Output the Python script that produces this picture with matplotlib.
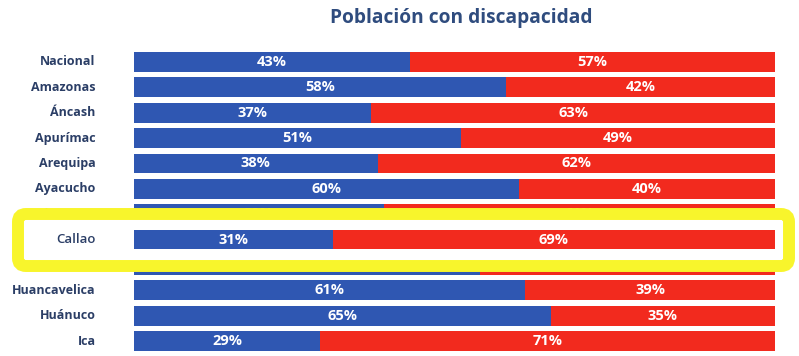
import matplotlib.pyplot as plt
from matplotlib.patches import FancyBboxPatch

# data
regiones = ["Nacional", "Amazonas", "Áncash", "Apurímac", "Arequipa", "Ayacucho",
            "Cajamarca", "Callao", "Cusco", "Huancavelica", "Huánuco", "Ica"]
azul = [43, 58, 37, 51, 38, 60, 39, 31, 54, 61, 65, 29]
rojo = [57, 42, 63, 49, 62, 40, 61, 69, 46, 39, 35, 71]
resaltado = "Callao"

c_azul = "#2F57B2"
c_rojo = "#F22A1E"
c_texto = "#2B3E66"
c_titulo = "#2F4C7E"

plt.rcParams['font.family'] = ['Open Sans', 'DejaVu Sans']

fig = plt.figure(figsize=(7.99, 3.56), dpi=100)
ax = fig.add_axes([134 / 799, 1 - 353.7 / 356, 641 / 799, 304.4 / 356])

for i, reg in enumerate(regiones):
    z = 5 if reg == resaltado else 1
    ax.barh(i, azul[i], height=0.78, color=c_azul, zorder=z)
    ax.barh(i, rojo[i], left=azul[i], height=0.78, color=c_rojo, zorder=z)
    ax.text(azul[i] / 2, i, f"{azul[i]}%", ha='center', va='center', color='white',
            fontsize=10.5, fontweight='bold', zorder=z + 1)
    ax.text(azul[i] + rojo[i] / 2, i, f"{rojo[i]}%", ha='center', va='center',
            color='white', fontsize=10.5, fontweight='bold', zorder=z + 1)
    ax.text(-6.0, i, reg, ha='right', va='center', color=c_texto,
            fontsize=9.5 if reg == resaltado else 9,
            fontweight='semibold' if reg == resaltado else 'bold', zorder=z + 1,
            clip_on=False)

ax.set_xlim(0, 100)
ax.set_ylim(len(regiones) - 0.5, -0.5)
ax.axis('off')

# yellow highlight box
box = FancyBboxPatch((0.18, 0.90), 7.71, 0.52,
                     boxstyle="round,pad=0,rounding_size=0.08",
                     transform=fig.dpi_scale_trans, facecolor='white',
                     edgecolor='#F8F52C', linewidth=8.6, zorder=3, clip_on=False)
ax.add_patch(box)

fig.text(461 / 799, 1 - 18 / 356, "Población con discapacidad", ha='center', va='center',
         color=c_titulo, fontsize=13.8, fontweight='bold')

fig.savefig("out.png", dpi=100)
